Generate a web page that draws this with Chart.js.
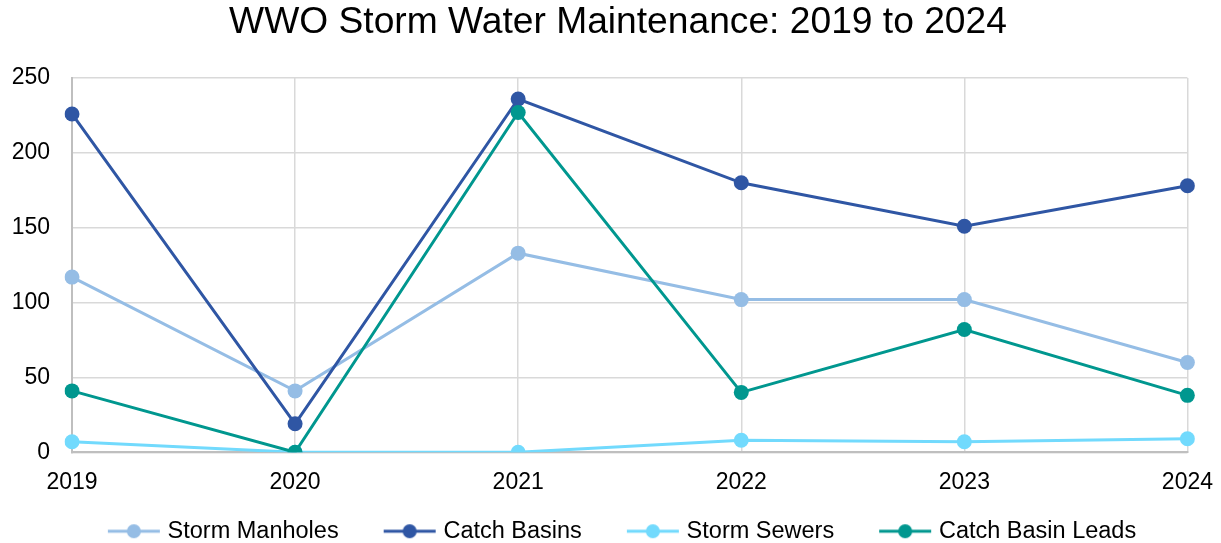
<!DOCTYPE html>
<html>
<head>
<meta charset="utf-8">
<script src="https://cdn.jsdelivr.net/npm/chart.js@4"></script>
<style>
    html, body { margin: 0; padding: 0; background: #fff; }
    #wrap { width: 1221px; height: 543px; }
</style>
</head>
<body>
<div id="wrap"><canvas id="stormChart"></canvas></div>
<script>
// ─── Data ───
const years = ['2019', '2020', '2021', '2022', '2023', '2024'];
const stormManholes = [117, 41, 133, 102, 102, 60];
const catchBasins = [226, 19, 236, 180, 151, 178];
const stormSewers = [7, 0, 0, 8, 7, 9];
const catchBasinLeads = [41, 0, 227, 40, 82, 38];
const yTicks = [0, 50, 100, 150, 200, 250];

const SERIES = [
    { label: 'Storm Manholes', data: stormManholes, color: '#95bde5' },
    { label: 'Catch Basins', data: catchBasins, color: '#2f56a4' },
    { label: 'Storm Sewers', data: stormSewers, color: '#72dafd' },
    { label: 'Catch Basin Leads', data: catchBasinLeads, color: '#00978f' }
];

const FONT = 'Liberation Sans, Arial, sans-serif';

// legend marker: short line with a dot, drawn on the right part of the box
// so the empty left part acts as extra spacing between items
function legendMarker(color) {
    const c = document.createElement('canvas');
    c.width = 88;
    c.height = 16;
    const g = c.getContext('2d');
    g.strokeStyle = color;
    g.lineWidth = 3;
    g.beginPath();
    g.moveTo(35, 8);
    g.lineTo(87, 8);
    g.stroke();
    g.fillStyle = color;
    g.beginPath();
    g.arc(61, 8, 7, 0, Math.PI * 2);
    g.fill();
    return c;
}

// the spacer in the first marker pushes the legend right; pull it back
const legendNudge = {
    id: 'legendNudge',
    afterLayout(chart) {
        if (!chart.legend) return;
        chart.legend.left -= 11;
        chart.legend.right -= 11;
    }
};

const ctx = document.getElementById('stormChart');

new Chart(ctx, {
    type: 'line',
    data: {
        labels: years,
        datasets: SERIES.map((s, i) => ({
            label: s.label,
            data: s.data,
            borderColor: s.color,
            backgroundColor: s.color,
            borderWidth: 3,
            pointRadius: 7.5,
            pointBorderWidth: 0,
            pointBackgroundColor: s.color,
            tension: 0,
            order: SERIES.length - i   // later series on top, like the original
        }))
    },
    plugins: [legendNudge],
    options: {
        responsive: true,
        maintainAspectRatio: false,
        animation: false,
        layout: { padding: { left: 11, right: -4, top: 0, bottom: -10 } },
        plugins: {
            title: {
                display: true,
                text: 'WWO Storm Water Maintenance: 2019 to 2024',
                color: '#000',
                font: { family: FONT, size: 37.2, weight: 'normal' },
                padding: { top: 0, bottom: 33.4 }
            },
            legend: {
                position: 'bottom',
                labels: {
                    color: '#000',
                    font: { family: FONT, size: 23.5 },
                    usePointStyle: true,
                    pointStyleWidth: 78,
                    padding: 15,
                    generateLabels: chart => chart.data.datasets.map((ds, i) => ({
                        text: ds.label,
                        pointStyle: legendMarker(ds.borderColor),
                        fillStyle: ds.borderColor,
                        strokeStyle: ds.borderColor,
                        lineWidth: 0,
                        hidden: !chart.isDatasetVisible(i),
                        datasetIndex: i,
                        fontColor: '#000'
                    }))
                }
            },
            tooltip: { enabled: false }
        },
        scales: {
            x: {
                offset: false,
                afterFit: axis => { axis.height = 52.25; },
                ticks: {
                    color: '#000',
                    font: { family: FONT, size: 23, lineHeight: 1.913 },
                    padding: 8,
                    maxRotation: 0
                },
                grid: { color: '#d9d9d9', lineWidth: 1.5, drawTicks: false },
                border: { color: '#bfbfbf', width: 2 }
            },
            y: {
                min: 0,
                max: 250,
                afterBuildTicks: axis => { axis.ticks = yTicks.map(v => ({ value: v })); },
                afterFit: axis => { axis.width = 61; },
                ticks: {
                    color: '#000',
                    font: { family: FONT, size: 23 },
                    padding: 22
                },
                grid: { color: '#d9d9d9', lineWidth: 1.5, drawTicks: false },
                border: { color: '#bfbfbf', width: 2 }
            }
        }
    }
});
</script>
</body>
</html>
